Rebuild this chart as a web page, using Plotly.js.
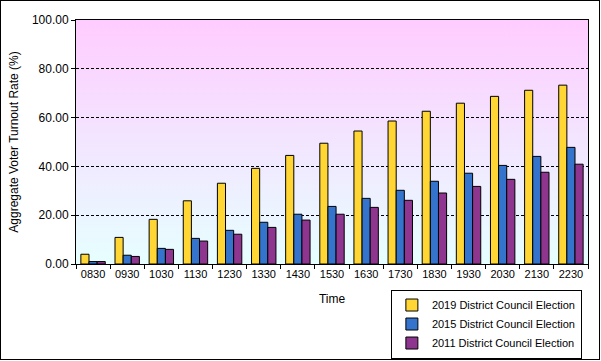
<!DOCTYPE html>
<html>
<head>
<meta charset="utf-8">
<script src="https://cdn.plot.ly/plotly-3.0.1.min.js"></script>
<style>
  html, body { margin: 0; padding: 0; background: #fff; }
  #wrap { position: relative; width: 601px; height: 361px; }
  #chart { width: 601px; height: 361px; }
  #frame { position: absolute; left: 0; top: 0; width: 600px; height: 360px; box-sizing: border-box; border: 1px solid #000; pointer-events: none; }
</style>
</head>
<body>
<div id="wrap"><div id="chart"></div><div id="frame"></div></div>
<script>
const times = ["0830","0930","1030","1130","1230","1330","1430","1530","1630","1730","1830","1930","2030","2130","2230"];
const turnout2019 = [4.0, 10.9, 18.3, 25.9, 33.1, 39.2, 44.5, 49.5, 54.5, 58.6, 62.6, 65.9, 68.7, 71.2, 73.3];
const turnout2015 = [1.0, 3.6, 6.4, 10.5, 13.8, 17.1, 20.4, 23.6, 26.9, 30.2, 33.9, 37.2, 40.4, 44.1, 47.8];
const turnout2011 = [1.0, 3.1, 6.0, 9.4, 12.2, 15.0, 18.0, 20.4, 23.2, 26.1, 29.1, 31.8, 34.7, 37.6, 40.9];
const seriesNames = ["2019 District Council Election", "2015 District Council Election", "2011 District Council Election"];
const yTicks = [0, 20, 40, 60, 80, 100];
const yTickText = ["0.00", "20.00", "40.00", "60.00", "80.00", "100.00"];

const colors = ["#FFD633", "#3474CC", "#8E358F"];
const data = [turnout2019, turnout2015, turnout2011].map((vals, i) => ({
  type: "bar",
  x: times,
  y: vals,
  name: seriesNames[i],
  marker: { color: colors[i], line: { color: "#000", width: 1 } },
  hoverinfo: "skip"
}));

const svg = '<svg xmlns="http://www.w3.org/2000/svg" width="100" height="100" preserveAspectRatio="none">' +
  '<defs><linearGradient id="g" x1="0" y1="0" x2="0" y2="1">' +
  '<stop offset="0" stop-color="#FFCCFF"/><stop offset="1" stop-color="#E6FFFF"/>' +
  '</linearGradient></defs><rect width="100" height="100" fill="url(#g)"/></svg>';

const font = "Liberation Sans, Arial, sans-serif";
const layout = {
  width: 601, height: 361,
  margin: { l: 76, r: 13, t: 20, b: 97, autoexpand: false },
  paper_bgcolor: "#fff",
  plot_bgcolor: "rgba(0,0,0,0)",
  font: { family: font, size: 11, color: "#000" },
  barmode: "group",
  bargap: 0.285,
  bargroupgap: 0,
  showlegend: true,
  legend: {
    x: 0.615, y: -0.246, xanchor: "left", yanchor: "middle",
    bgcolor: "#fff", bordercolor: "#000", borderwidth: 1,
    font: { family: font, size: 11, color: "#000" },
    tracegroupgap: 0, traceorder: "normal"
  },
  images: [{
    source: "data:image/svg+xml;charset=utf-8," + encodeURIComponent(svg),
    xref: "paper", yref: "paper", x: 0, y: 1, sizex: 1, sizey: 1,
    sizing: "stretch", layer: "below", xanchor: "left", yanchor: "top"
  }],
  xaxis: {
    type: "category",
    showline: true, linecolor: "#000", linewidth: 1, mirror: true,
    ticks: "outside", ticklen: 4, tickcolor: "#000", tickson: "boundaries",
    showgrid: false,
    tickfont: { family: font, size: 11, color: "#000" },
    title: { text: "Time", font: { family: font, size: 12, color: "#000" }, standoff: 15 },
    automargin: false
  },
  yaxis: {
    range: [0, 100],
    tickvals: yTicks, ticktext: yTickText,
    showline: true, linecolor: "#000", linewidth: 1, mirror: true,
    ticks: "outside", ticklen: 4, tickcolor: "#000",
    showgrid: true, gridcolor: "#000", gridwidth: 1, griddash: "3px,2px",
    zeroline: false,
    tickfont: { family: font, size: 12, color: "#000" },
    title: { text: "Aggregate Voter Turnout Rate (%)", font: { family: font, size: 12, color: "#000" }, standoff: 10 },
    automargin: false
  }
};

Plotly.newPlot("chart", data, layout, { displayModeBar: false, staticPlot: true });
</script>
</body>
</html>
